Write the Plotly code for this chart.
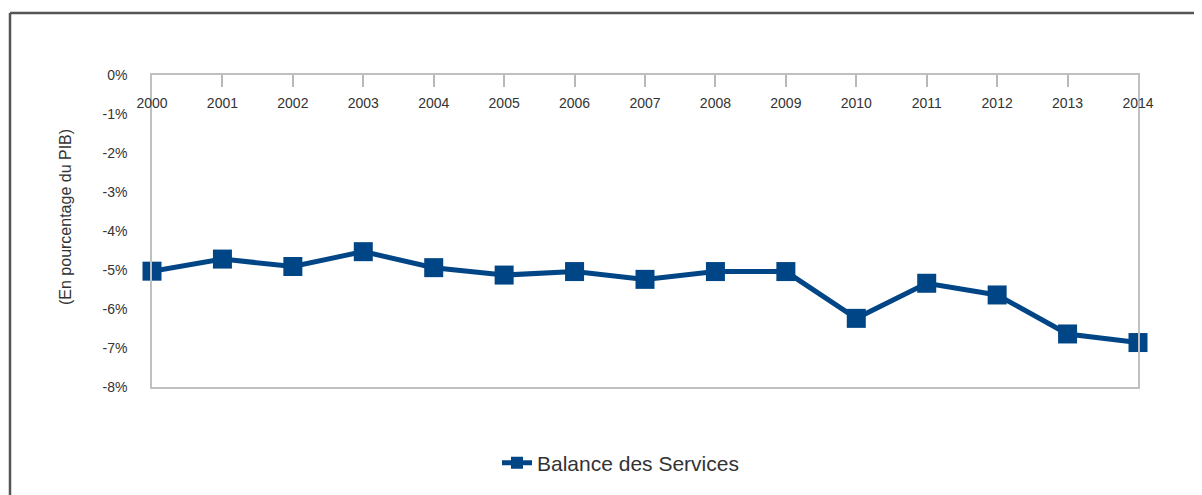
import plotly.graph_objects as go

years = list(range(2000, 2015))
balance_services = [-5.03, -4.72, -4.91, -4.53, -4.94, -5.13, -5.04, -5.24,
                    -5.04, -5.04, -6.24, -5.34, -5.64, -6.64, -6.86]
y_tickvals = [0, -1, -2, -3, -4, -5, -6, -7, -8]
y_ticktext = ["0%", "-1%", "-2%", "-3%", "-4%", "-5%", "-6%", "-7%", "-8%"]
series_name = "Balance des Services"
y_title = "(En pourcentage du PIB)"

BLUE = "#004586"
OFF = 8  # page body margin
W, H = 1202 - OFF, 495 - OFF
# plot area in screen pixels: left 152, right 1138, top 75, bottom 387
L, R, T, B = 152 - OFF, W - (1138 - OFF), 75 - OFF, H - (387 - OFF)
pw, ph = W - L - R, H - T - B

def px(x):
    return (x - OFF - L) / pw

def py(y):
    return (H - B - (y - OFF)) / ph

fig = go.Figure()
fig.add_trace(go.Scatter(
    x=years, y=balance_services, mode="lines+markers", name=series_name,
    line=dict(color=BLUE, width=5),
    marker=dict(symbol="square", size=19, color=BLUE),
    cliponaxis=False,
))

fig.update_layout(
    width=W, height=H,
    margin=dict(l=L, r=R, t=T, b=B),
    paper_bgcolor="white", plot_bgcolor="white",
    font=dict(family="Liberation Sans, Arial, sans-serif", color="#333333", size=14),
    showlegend=True,
    legend=dict(orientation="h", x=px(497), xanchor="left", y=py(463), yanchor="middle",
                font=dict(size=21, color="#333333"), itemsizing="constant",
                bgcolor="rgba(0,0,0,0)"),
    xaxis=dict(
        range=[2000, 2014], side="top", tickmode="array", tickvals=years,
        ticktext=[str(y) for y in years],
        ticks="inside", ticklen=12, tickcolor="#b8b8b8", tickwidth=1.5,
        ticklabelposition="inside", ticklabeloverflow="allow", ticklabelstandoff=11,
        showgrid=False, zeroline=False,
        showline=True, linecolor="#c0c0c0", linewidth=1.5, mirror=True,
        tickfont=dict(size=14, color="#333333"),
    ),
    yaxis=dict(
        range=[-8, 0], tickmode="array", tickvals=y_tickvals, ticktext=y_ticktext,
        ticks="", ticklabelstandoff=20, showgrid=False, zeroline=False,
        showline=True, linecolor="#c0c0c0", linewidth=1.5, mirror=True,
        tickfont=dict(size=14, color="#333333"),
    ),
    annotations=[dict(
        text=y_title, textangle=-90, xref="paper", yref="paper",
        x=px(65), y=py(217), xanchor="center", yanchor="middle",
        showarrow=False, font=dict(size=16, color="#333333"),
    )],
    shapes=[
        dict(type="line", xref="paper", yref="paper", x0=px(10), x1=px(1201),
             y0=py(13), y1=py(13), line=dict(color="#555555", width=2.5)),
        dict(type="line", xref="paper", yref="paper", x0=px(10), x1=px(10),
             y0=py(13), y1=py(495), line=dict(color="#555555", width=2.5)),
        dict(type="line", xref="paper", yref="paper", x0=px(1199), x1=px(1199),
             y0=py(13), y1=py(495), line=dict(color="#999999", width=2)),
    ],
)

fig.write_html("out.html")
